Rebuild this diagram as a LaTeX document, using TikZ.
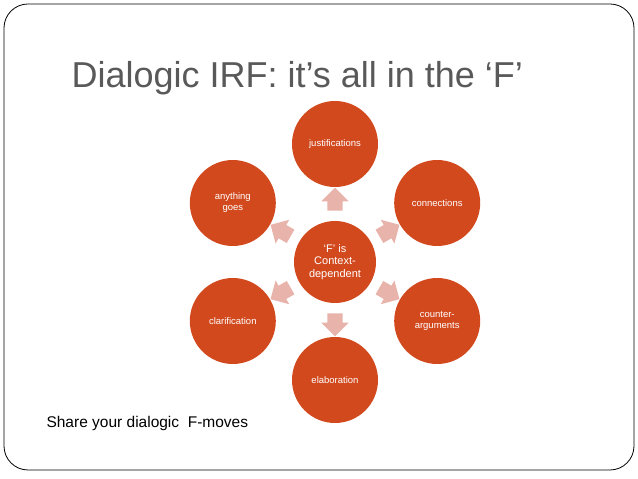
\documentclass[tikz,border=0pt]{standalone}
\usepackage{fontspec}
\setmainfont{Liberation Sans}
\usetikzlibrary{shapes.arrows, calc}
\definecolor{rust}{HTML}{D2491E}
\definecolor{blush}{HTML}{E8B3AB}
\definecolor{slate}{HTML}{595959}
\tikzset{
  x=1pt, y=1pt, % one unit is one pixel of the slide
  bubble/.style={circle, fill=rust, text=white, minimum size=86pt, inner sep=1pt, align=center, font=\fontsize{9.5}{11}\selectfont}, % the orange circles
  hub/.style={bubble, minimum size=82pt, font=\fontsize{11}{12.5}\selectfont}, % the one in the middle
  pointer/.style={single arrow, fill=blush, inner sep=7.5pt, minimum height=20pt, single arrow head extend=6pt, single arrow head indent=0pt}, % pale block arrows
}

\begin{document}
\begin{tikzpicture}
  \useasboundingbox (0,0) rectangle (638,479);
  \draw[thick, rounded corners=24pt] (4,9) rectangle (634,475);

  \node[anchor=base west, text=slate, font=\fontsize{36}{40}\selectfont] (title) at (68,391) {Dialogic IRF: it’s all in the ‘F’};

  \node[hub] (F) at (335,217) {‘F’ is\\Context-\\dependent};
  \foreach \ang/\name/\txt in {90/just/justifications, 30/conn/connections, -30/counter/{counter-\\arguments},
      -90/elab/elaboration, 210/clar/clarification, 150/any/{anything\\goes}} {
    \node[bubble] (\name) at ($(F)+(\ang:118)$) {\txt};
    \node[pointer, rotate=\ang] (to-\name) at ($(F)!0.5!(\name)$) {};
  }

  \node[anchor=base west, font=\fontsize{15.5}{18}\selectfont] (share) at (43,51) {Share your dialogic \ F-moves};
\end{tikzpicture}
\end{document}
